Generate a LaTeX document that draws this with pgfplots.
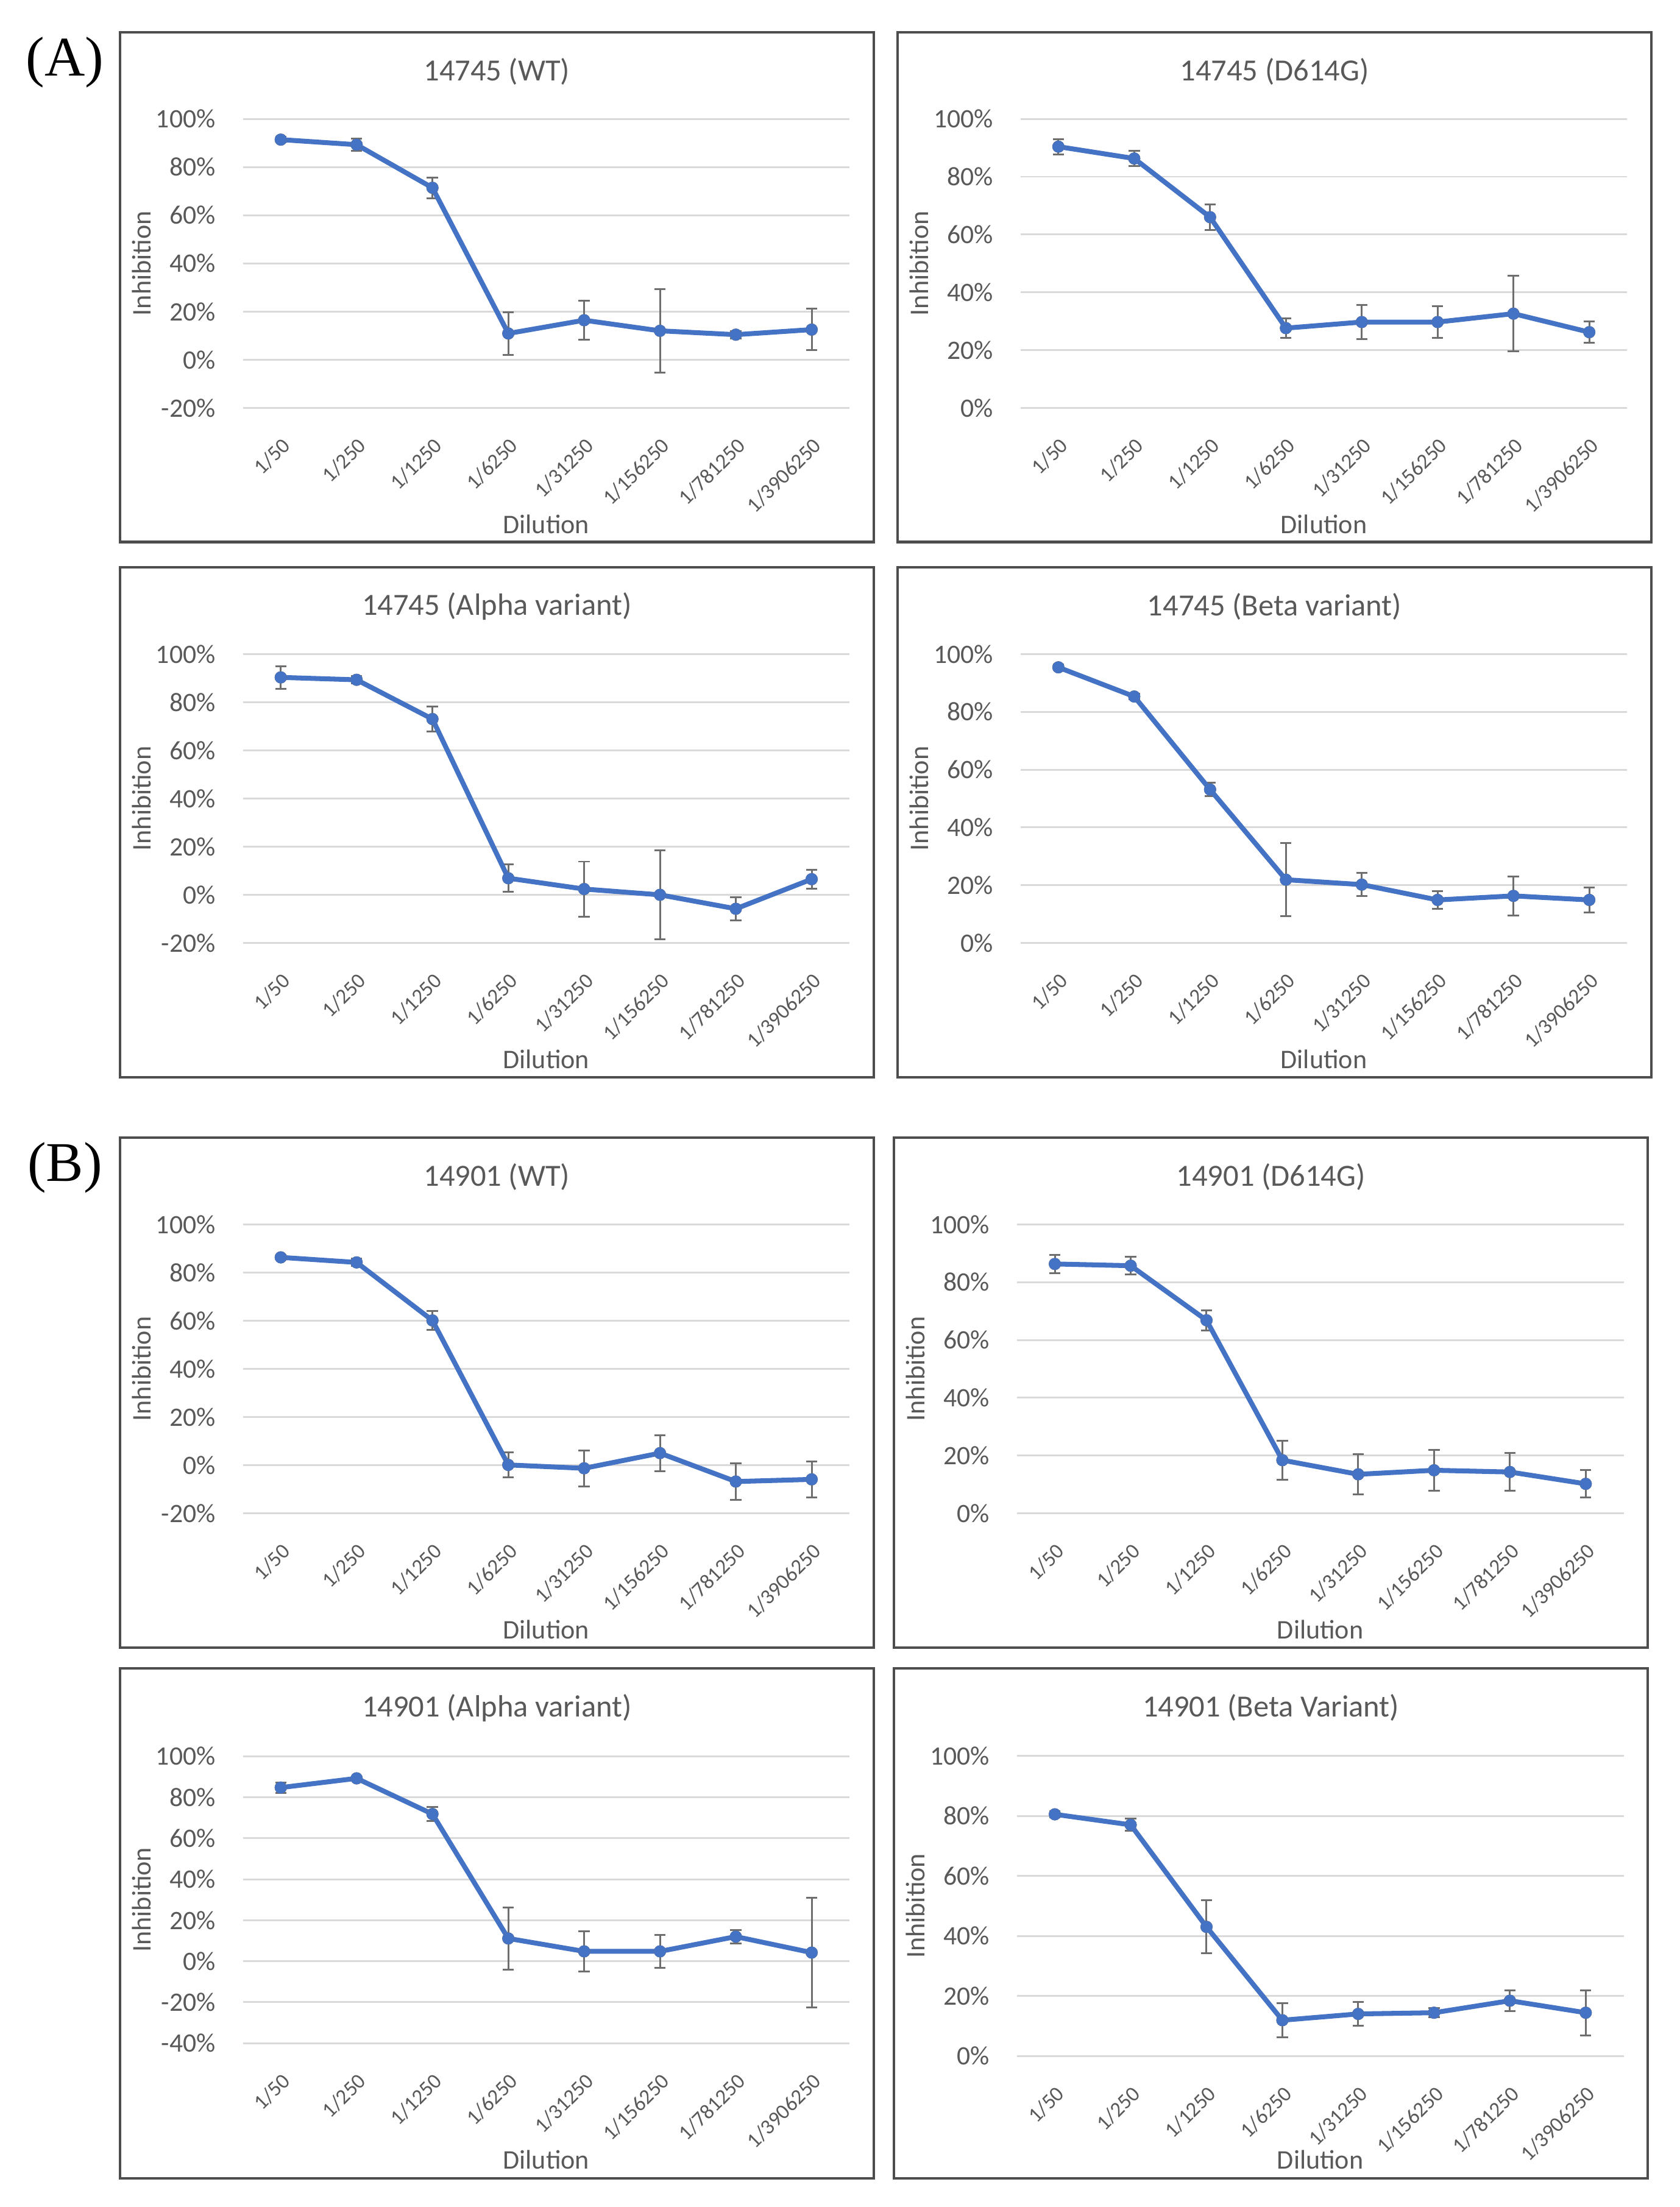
\documentclass[border=0pt]{standalone}
\usepackage{fontspec}
\setmainfont{Carlito}
\newfontfamily\seriffont{Liberation Serif}
\usepackage{pgfplots}
\pgfplotsset{compat=1.18}
\usepackage{pgfplotstable}

\definecolor{excelblue}{HTML}{4472C4}
\definecolor{txtgray}{HTML}{595959}
\definecolor{gridgray}{HTML}{D9D9D9}
\definecolor{errgray}{HTML}{6E6E6E}
\definecolor{boxgray}{HTML}{4D4D4D}

\pgfplotstableread{
x y e
0 91.4 1.2
1 89.3 2.5
2 71.4 4.3
3 10.9 8.8
4 16.4 8.1
5 12.0 17.4
6 10.4 1.5
7 12.5 8.6
}\tAWT
\pgfplotstableread{
x y e
0 90.4 2.6
1 86.3 2.6
2 66.0 4.4
3 27.6 3.4
4 29.7 5.9
5 29.7 5.5
6 32.6 13.1
7 26.2 3.7
}\tADG
\pgfplotstableread{
x y e
0 90.3 4.7
1 89.3 1.5
2 73.0 5.2
3 6.9 5.7
4 2.4 11.4
5 0.0 18.5
6 -5.8 4.8
7 6.5 4.0
}\tAAL
\pgfplotstableread{
x y e
0 95.4 1.0
1 85.3 1.0
2 53.1 2.3
3 21.9 12.7
4 20.2 4.0
5 14.9 3.0
6 16.3 6.8
7 14.9 4.3
}\tABE
\pgfplotstableread{
x y e
0 86.3 1.0
1 84.2 1.5
2 60.1 3.9
3 0.1 5.2
4 -1.3 7.5
5 5.0 7.5
6 -6.8 7.5
7 -5.9 7.5
}\tBWT
\pgfplotstableread{
x y e
0 86.3 3.1
1 85.7 3.1
2 66.8 3.5
3 18.4 6.7
4 13.5 7.0
5 14.9 7.0
6 14.3 6.5
7 10.2 4.8
}\tBDG
\pgfplotstableread{
x y e
0 84.7 2.5
1 89.2 1.0
2 71.8 3.5
3 11.1 15.2
4 4.8 9.8
5 4.8 7.9
6 12.0 3.3
7 4.2 26.7
}\tBAL
\pgfplotstableread{
x y e
0 80.5 1.0
1 77.0 2.0
2 43.0 8.8
3 11.9 5.6
4 14.0 4.0
5 14.4 1.5
6 18.4 3.5
7 14.4 7.5
}\tBBE

\pgfplotsset{
  panel/.style={
    scale only axis, width=216.7bp, height=103.2bp,
    anchor=south west, clip=false,
    xmin=-0.5, xmax=7.5, xtick={0,...,7},
    xticklabels={1/50,1/250,1/1250,1/6250,1/31250,1/156250,1/781250,1/3906250},
    ytick distance=20,
    axis line style={draw=none},
    major tick length=0pt,
    ymajorgrids, grid style={gridgray, line width=0.65bp},
    /pgf/number format/assume math mode=true,
    yticklabel={\pgfmathprintnumber{\tick}\%},
    yticklabel style={font=\fontsize{9.5bp}{11bp}\selectfont, text=txtgray, inner sep=0pt, anchor=east, xshift=-9.6bp},
    xticklabel style={font=\fontsize{7.6bp}{9bp}\selectfont, text=txtgray, inner sep=0.5bp, yshift=-9.3bp, rotate=45, anchor=north east},
    title style={at={(axis description cs:0.4186,1)}, anchor=center, yshift=10.95bp, font=\fontsize{11bp}{13bp}\selectfont, text=txtgray},
    xlabel=Dilution, ylabel=Inhibition,
    xlabel style={at={(axis description cs:0.5,0)}, anchor=center, yshift=-41.5bp, font=\fontsize{9.6bp}{11bp}\selectfont, text=txtgray},
    ylabel style={at={(axis description cs:-0.167,0.5)}, anchor=center, font=\fontsize{9.6bp}{11bp}\selectfont, text=txtgray},
  },
  errs/.style={only marks, mark=none, errgray, forget plot,
    error bars/.cd, y dir=both, y explicit,
    error bar style={line width=0.65bp, errgray},
    error mark options={rotate=90, mark size=2bp, line width=0.65bp, errgray}},
  curve/.style={excelblue, line width=1.75bp, line join=round, mark=*, mark size=2bp, mark options={fill=excelblue, draw=excelblue, line width=0.3bp}},
}

\begin{document}
\begin{tikzpicture}
% frames
\draw[boxgray, line width=0.9bp] (42.85bp,594.65bp) rectangle (312.03bp,776.72bp);
\draw[boxgray, line width=0.9bp] (320.57bp,594.65bp) rectangle (589.75bp,776.72bp);
\draw[boxgray, line width=0.9bp] (42.85bp,403.53bp) rectangle (312.03bp,585.6bp);
\draw[boxgray, line width=0.9bp] (320.57bp,403.53bp) rectangle (589.75bp,585.6bp);
\draw[boxgray, line width=0.9bp] (42.85bp,199.83bp) rectangle (312.03bp,381.9bp);
\draw[boxgray, line width=0.9bp] (319.3bp,199.83bp) rectangle (588.5bp,381.9bp);
\draw[boxgray, line width=0.9bp] (42.85bp,10.25bp) rectangle (312.03bp,192.29bp);
\draw[boxgray, line width=0.9bp] (319.3bp,10.25bp) rectangle (588.5bp,192.29bp);

\node[font=\seriffont\fontsize{20bp}{24bp}\selectfont, inner sep=0pt] at (23.2bp,765.85bp) {(A)};
\node[font=\seriffont\fontsize{20bp}{24bp}\selectfont, inner sep=0pt] at (23.2bp,371.1bp) {(B)};

\begin{axis}[panel, at={(86.73bp,642.57bp)}, ymin=-20, ymax=100, title={14745 (WT)}]
\addplot[errs] table[x=x,y=y,y error=e] {\tAWT};
\addplot[curve] table[x=x,y=y] {\tAWT};
\end{axis}

\begin{axis}[panel, at={(364.45bp,642.57bp)}, ymin=0, ymax=100, title={14745 (D614G)}]
\addplot[errs] table[x=x,y=y,y error=e] {\tADG};
\addplot[curve] table[x=x,y=y] {\tADG};
\end{axis}

\begin{axis}[panel, at={(86.73bp,451.45bp)}, ymin=-20, ymax=100, title={14745 (Alpha variant)}]
\addplot[errs] table[x=x,y=y,y error=e] {\tAAL};
\addplot[curve] table[x=x,y=y] {\tAAL};
\end{axis}

\begin{axis}[panel, at={(364.45bp,451.45bp)}, ymin=0, ymax=100, title={14745 (Beta variant)}]
\addplot[errs] table[x=x,y=y,y error=e] {\tABE};
\addplot[curve] table[x=x,y=y] {\tABE};
\end{axis}

\begin{axis}[panel, at={(86.73bp,247.75bp)}, ymin=-20, ymax=100, title={14901 (WT)}]
\addplot[errs] table[x=x,y=y,y error=e] {\tBWT};
\addplot[curve] table[x=x,y=y] {\tBWT};
\end{axis}

\begin{axis}[panel, at={(363.18bp,247.75bp)}, ymin=0, ymax=100, title={14901 (D614G)}]
\addplot[errs] table[x=x,y=y,y error=e] {\tBDG};
\addplot[curve] table[x=x,y=y] {\tBDG};
\end{axis}

\begin{axis}[panel, at={(86.73bp,58.5bp)}, height=102.5bp, ymin=-40, ymax=100, title={14901 (Alpha variant)}, title style={yshift=0.35bp}]
\addplot[errs] table[x=x,y=y,y error=e] {\tBAL};
\addplot[curve] table[x=x,y=y] {\tBAL};
\end{axis}

\begin{axis}[panel, at={(363.18bp,53.95bp)}, height=107.2bp, ymin=0, ymax=100, title={14901 (Beta Variant)}, title style={yshift=0.35bp}, xlabel style={yshift=4.5bp}]
\addplot[errs] table[x=x,y=y,y error=e] {\tBBE};
\addplot[curve] table[x=x,y=y] {\tBBE};
\end{axis}

\pgfresetboundingbox
\useasboundingbox (0,0) rectangle (600bp,788.25bp);
\end{tikzpicture}
\end{document}
